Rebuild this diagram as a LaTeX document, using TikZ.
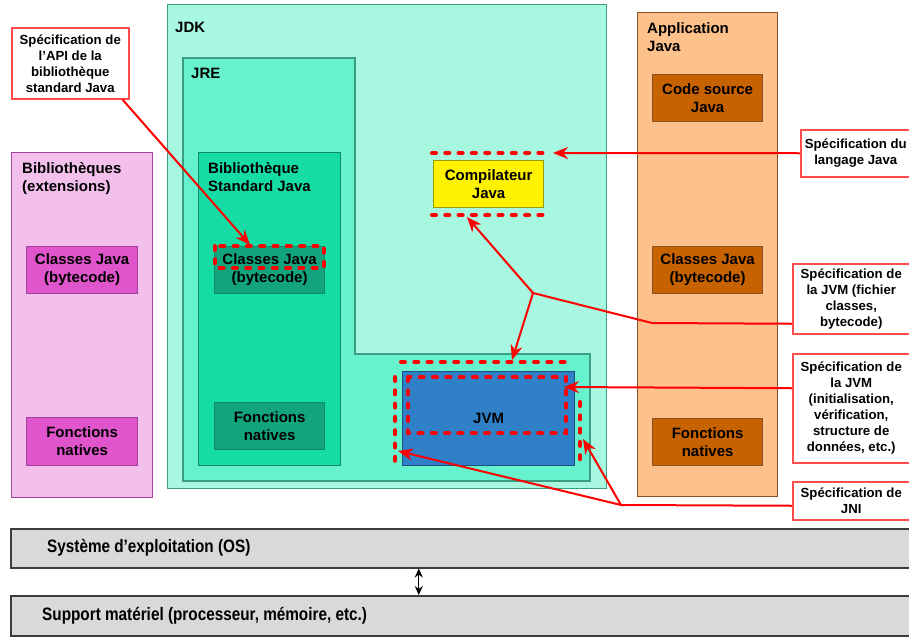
\documentclass[tikz,border=0pt]{standalone}
\usepackage{fontspec}
\setmainfont{Liberation Sans}
\newfontfamily\narrowsans[FakeStretch=0.85,Ligatures=TeX]{Liberation Sans}
\usepackage{tikz}
\usetikzlibrary{arrows.meta,positioning}

\definecolor{jdkfill}{HTML}{A8F7E1}
\definecolor{jdkline}{HTML}{3A9E80}
\definecolor{jrefill}{HTML}{66F2CC}
\definecolor{bsjfill}{HTML}{15DCA5}
\definecolor{bsjdark}{HTML}{12A57D}
\definecolor{bsjline}{HTML}{0F8A66}
\definecolor{extfill}{HTML}{F3BFEB}
\definecolor{extdark}{HTML}{E055CB}
\definecolor{extline}{HTML}{A0419E}
\definecolor{appfill}{HTML}{FDC18B}
\definecolor{appdark}{HTML}{C76200}
\definecolor{appline}{HTML}{8A5224}
\definecolor{jvmfill}{HTML}{3080C8}
\definecolor{jvmline}{HTML}{1C4E80}
\definecolor{compline}{HTML}{9A9A00}
\definecolor{specline}{HTML}{FF4D4D}
\definecolor{barfill}{HTML}{D9D9D9}
\definecolor{barline}{HTML}{3C3C3C}

\newcommand{\boxtxt}{\fontsize{15}{18}\selectfont\bfseries}
\newcommand{\spectxt}{\fontsize{13.2}{16}\selectfont\bfseries}
\newcommand{\bartxt}{\narrowsans\fontsize{18}{20}\selectfont\bfseries}

\begin{document}
\begin{tikzpicture}[x=1pt,y=-1pt,>={Stealth[length=15pt,width=12pt]},
                    line join=miter]
	\tikzstyle{box}=[draw,rectangle,anchor=north west,inner sep=0pt,
	                 align=center,font=\boxtxt,line width=1.2pt]
	\tikzstyle{title}=[inner sep=0pt,align=left,font=\boxtxt]
	\tikzstyle{specbox}=[box,fill=white,draw=specline,font=\spectxt,line width=1.5pt]
	\tikzstyle{reddash}=[draw=red,line width=4pt,line cap=round,dash pattern=on 4pt off 9.3pt]
	\tikzstyle{spec}=[draw=red,line width=2pt]
	\tikzstyle{bar}=[box,fill=barfill,draw=barline,line width=1.5pt]

	\useasboundingbox (0,0) rectangle (909,637);
	\fill[white] (0,0) rectangle (909,637);

	% bibliotheques (extensions)
	\node[box,fill=extfill,draw=extline,minimum width=141pt,minimum height=345pt] (ext) at (11,152) {};
	\node[title,below right=10pt and 11pt of ext.north west] (exttitle) {Biblioth\`eques\\(extensions)};
	\node[box,fill=extdark,draw=extline,minimum width=111pt,minimum height=47pt] (extcls) at (26,246) {Classes Java\\(bytecode)};
	\node[box,fill=extdark,draw=extline,minimum width=111pt,minimum height=48pt] (extnat) at (26,417) {Fonctions\\natives};

	% JDK et JRE
	\node[box,fill=jdkfill,draw=jdkline,minimum width=439pt,minimum height=484pt] (jdk) at (167,4) {};
	\node[title,below right=18pt and 8pt of jdk.north west] (jdktitle) {JDK};
	\coordinate (jretop) at (183,58);
	\draw[fill=jrefill,draw=jdkline,line width=1.2pt] (jretop) -- (355,58) -- (355,354) -- (590,354)
		-- (590,481) -- (183,481) -- cycle;
	\node[title,below right=10pt and 8pt of jretop] (jretitle) {JRE};

	\node[box,fill=bsjfill,draw=bsjline,minimum width=142pt,minimum height=313pt] (bsj) at (198,152) {};
	\node[title,below right=10pt and 10pt of bsj.north west] (bsjtitle) {Biblioth\`eque\\Standard Java};
	\node[box,fill=bsjdark,draw=bsjline,minimum width=110pt,minimum height=47pt] (bsjcls) at (214,246) {Classes Java\\(bytecode)};
	\node[box,fill=bsjdark,draw=bsjline,minimum width=110pt,minimum height=47pt] (bsjnat) at (214,402) {Fonctions\\natives};

	\node[box,fill=jvmfill,draw=jvmline,minimum width=172pt,minimum height=94pt] (jvm) at (402,371) {JVM};
	\node[box,fill=yellow,draw=compline,minimum width=110pt,minimum height=47pt] (comp) at (433,160) {Compilateur\\Java};

	% application Java
	\node[box,fill=appfill,draw=appline,minimum width=140pt,minimum height=484pt] (app) at (637,12) {};
	\node[title,below right=10pt and 10pt of app.north west] (apptitle) {Application\\Java};
	\node[box,fill=appdark,draw=appline,minimum width=110pt,minimum height=47pt] (src) at (652,74) {Code source\\Java};
	\node[box,fill=appdark,draw=appline,minimum width=110pt,minimum height=47pt] (appcls) at (652,246) {Classes Java\\(bytecode)};
	\node[box,fill=appdark,draw=appline,minimum width=110pt,minimum height=47pt] (appnat) at (652,418) {Fonctions\\natives};

	% OS et materiel
	\node[bar,minimum width=902pt,minimum height=39pt] (os) at (10,528) {};
	\node[font=\bartxt,inner sep=0pt,right=37pt of os.west] (ostxt) {Syst\`eme d’exploitation (OS)};
	\node[bar,minimum width=902pt,minimum height=40pt] (hw) at (10,595) {};
	\node[font=\bartxt,inner sep=0pt,right=32pt of hw.west] (hwtxt) {Support mat\'eriel (processeur, m\'emoire, etc.)};
	\draw[line width=1.2pt,>={Stealth[length=9pt,width=8pt]},<->] ([xshift=-43pt]os.south) -- ([xshift=-43pt]hw.north);

	% zones des specifications
	\draw[reddash] (215,246) rectangle (324,268);
	\draw[reddash] (432,153) -- (543,153);
	\draw[reddash] (432,215) -- (543,215);
	\draw[reddash] (401,362) -- (570,362);
	\draw[reddash] (395,377) -- (395,464);
	\draw[reddash] (580,402) -- (580,462);
	\draw[reddash] (408,377) rectangle (566,433);

	% specifications
	\node[specbox,minimum width=117pt,minimum height=71pt] (api) at (11,27) {Sp\'ecification de\\l’API de la\\biblioth\`eque\\standard Java};
	\node[specbox,minimum width=110pt,minimum height=47pt] (lang) at (800,129) {Sp\'ecification du\\langage Java};
	\node[specbox,minimum width=117pt,minimum height=70pt] (fich) at (792,263) {Sp\'ecification de\\la JVM (fichier\\classes,\\bytecode)};
	\node[specbox,minimum width=117pt,minimum height=109pt] (init) at (792,353) {Sp\'ecification de\\la JVM\\(initialisation,\\v\'erification,\\structure de\\donn\'ees, etc.)};
	\node[specbox,minimum width=117pt,minimum height=38pt] (jni) at (792,481) {Sp\'ecification de\\JNI};

	\coordinate (apitip) at (250,245);
	\coordinate (langtip) at (553,153);
	\coordinate (fichbend) at (652,323);
	\coordinate (fichfork) at (533,293);
	\coordinate (comptip) at (467,217);
	\coordinate (jvmtoptip) at (512,360);
	\coordinate (inittip) at (564,387);
	\coordinate (jnifork) at (621,505);
	\coordinate (jnileft) at (398,451);
	\coordinate (jniright) at (583,439);

	\draw[spec,->] ([xshift=-7pt]api.south east) -- (apitip);
	\draw[spec,->] (lang.west) -- (langtip);
	\draw[spec] ([yshift=-25pt]fich.west) -- (fichbend) -- (fichfork);
	\draw[spec,->] (fichfork) -- (comptip);
	\draw[spec,->] (fichfork) -- (jvmtoptip);
	\draw[spec,->] ([yshift=20pt]init.west) -- (inittip);
	\draw[spec] ([yshift=-5pt]jni.west) -- (jnifork);
	\draw[spec,->] (jnifork) -- (jnileft);
	\draw[spec,->] (jnifork) -- (jniright);
\end{tikzpicture}
\end{document}
